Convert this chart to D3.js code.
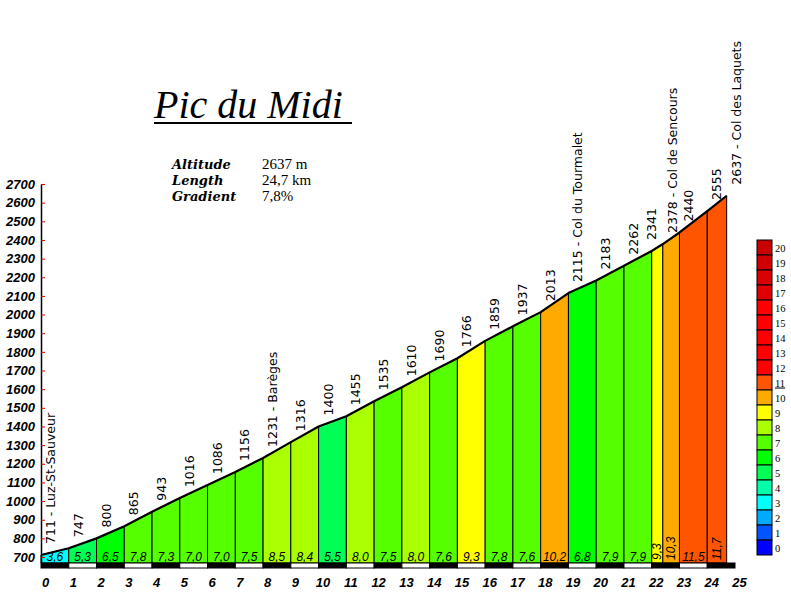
<!DOCTYPE html>
<html lang="fr">
<head>
  <meta charset="UTF-8">
  <title>Pic du Midi - profil</title>
  <script src="https://d3js.org/d3.v7.min.js"></script>
  <style>
    body {
      margin: 0;
      background: #fff;
    }
    .title {
      font-family: "Liberation Serif", serif;
      font-style: italic;
      font-size: 40px;
    }
    .stat-label {
      font-family: "DejaVu Serif", serif;
      font-style: italic;
      font-weight: bold;
      font-size: 13px;
    }
    .stat-value {
      font-family: "Liberation Serif", serif;
      font-size: 15px;
    }
    .axis text {
      font-family: "Liberation Sans", Arial, sans-serif;
      font-style: italic;
      font-weight: bold;
      font-size: 13px;
      fill: #000;
    }
    .point-label {
      font-family: "DejaVu Sans", sans-serif;
      font-size: 12.5px;
    }
    .grad-label {
      font-family: "Liberation Sans", Arial, sans-serif;
      font-style: italic;
      font-size: 12px;
    }
    .legend-label {
      font-family: "Liberation Serif", serif;
      font-size: 10.5px;
    }
  </style>
</head>
<body>
  <svg id="chart" width="791" height="594"></svg>

  <script>
    // Données du profil (km, altitude)
    const kms = [0, 1, 2, 3, 4, 5, 6, 7, 8, 9, 10, 11, 12, 13, 14, 15, 16, 17, 18, 19, 20, 21, 22, 22.4, 23, 24, 24.7];
    const elevations = [711, 747, 800, 865, 943, 1016, 1086, 1156, 1231, 1316, 1400, 1455, 1535, 1610, 1690, 1766, 1859, 1937, 2013, 2115, 2183, 2262, 2341, 2378, 2440, 2555, 2637];
    const places = ["Luz-St-Sauveur", "", "", "", "", "", "", "", "Barèges", "", "", "", "", "", "", "", "", "", "", "Col du Tourmalet", "", "", "", "Col de Sencours", "", "", "Col des Laquets"];
    // Pente de chaque tronçon (%)
    const gradients = [3.6, 5.3, 6.5, 7.8, 7.3, 7.0, 7.0, 7.5, 8.5, 8.4, 5.5, 8.0, 7.5, 8.0, 7.6, 9.3, 7.8, 7.6, 10.2, 6.8, 7.9, 7.9, 9.3, 10.3, 11.5, 11.7];
    // Couleur par pente entière 0..20
    const gradientColors = ["#0000ff", "#0055ff", "#00aaff", "#00ffff", "#00ffaa", "#00ff55", "#00ff00", "#55ff00", "#aaff00", "#ffff00", "#ffaa00", "#ff5500",
      "#ff0000", "#ff0000", "#ff0000", "#ff0000", "#ff0000", "#e00000", "#d80000", "#d00000", "#c80000"];
    const yTicks = d3.range(700, 2701, 100);
    const xTicks = d3.range(0, 26, 1);
    const stats = [["Altitude", "2637 m"], ["Length", "24,7 km"], ["Gradient", "7,8%"]];
    const climbName = "Pic du Midi";

    const svg = d3.select("#chart");
    const x = d3.scaleLinear().domain([0, 25]).range([41, 735]);
    const y = d3.scaleLinear().domain([668, 2700]).range([563, 184]);
    const base = y.domain()[0];
    const fmt = v => d3.format(".1f")(v).replace(".", ",");

    // Titre
    svg.append("text").attr("class", "title").attr("x", 154).attr("y", 118).text(climbName);
    svg.append("rect").attr("x", 154).attr("y", 122).attr("width", 198).attr("height", 2).attr("fill", "#000");

    // Caractéristiques
    stats.forEach((s, i) => {
      svg.append("text").attr("class", "stat-label").attr("x", 172).attr("y", 169 + i * 16).text(s[0]);
      svg.append("text").attr("class", "stat-value").attr("x", 262).attr("y", 169 + i * 16).text(s[1]);
    });

    // Tronçons colorés
    const segs = gradients.map((g, i) => ({
      k0: kms[i], k1: kms[i + 1], e0: elevations[i], e1: elevations[i + 1], g
    }));

    svg.append("g").selectAll("path")
      .data(segs)
      .join("path")
      .attr("d", d => `M${x(d.k0)},${y(base)}L${x(d.k0)},${y(d.e0)}L${x(d.k1)},${y(d.e1)}L${x(d.k1)},${y(base)}Z`)
      .attr("fill", d => gradientColors[Math.floor(d.g)])
      .attr("stroke", "#000")
      .attr("stroke-width", 1);

    // Pentes dans les tronçons
    segs.forEach(d => {
      const cx = (x(d.k0) + x(d.k1)) / 2;
      const w = x(d.k1) - x(d.k0);
      const label = fmt(d.g);
      const t = svg.append("text").attr("class", "grad-label").text(label);
      if (w < label.length * 5.5 + 1) {
        t.attr("transform", `translate(${cx + 4},560) rotate(-90)`);
      } else {
        t.attr("x", cx).attr("y", 561).attr("text-anchor", "middle");
      }
    });

    // Ligne du profil
    const line = d3.line().x((d, i) => x(kms[i])).y(d => y(d));
    svg.append("path")
      .datum(elevations)
      .attr("d", line)
      .attr("fill", "none")
      .attr("stroke", "#000")
      .attr("stroke-width", 2.2)
      .attr("stroke-linejoin", "round");

    // Étiquettes d'altitude
    const lx = kms.map(k => x(k) + 14);
    for (let i = lx.length - 2; i >= 0; i--) {
      if (lx[i + 1] - lx[i] < 14) lx[i] = lx[i + 1] - 21;
    }
    svg.append("g").selectAll("text")
      .data(elevations)
      .join("text")
      .attr("class", "point-label")
      .attr("transform", (d, i) => `translate(${lx[i]},${y(d) - 11}) rotate(-90)`)
      .text((d, i) => places[i] ? `${d} - ${places[i]}` : d);

    // Barre kilométrique
    svg.append("g").selectAll("rect")
      .data(d3.range(25))
      .join("rect")
      .attr("x", d => x(d))
      .attr("y", 563)
      .attr("width", x(1) - x(0))
      .attr("height", 5)
      .attr("fill", d => d % 2 ? "#fff" : "#000")
      .attr("stroke", "#000")
      .attr("stroke-width", 1);

    // Axe des altitudes
    const yAxis = d3.axisLeft(y).tickValues(yTicks).tickSizeInner(-4).tickSizeOuter(0).tickPadding(6).tickFormat(d3.format("d"));
    const gy = svg.append("g").attr("class", "axis").attr("transform", "translate(41,0)").call(yAxis);
    gy.selectAll(".tick line").attr("stroke", "#e00000");
    gy.select(".domain").attr("stroke", "#000").attr("stroke-width", 1.5);

    // Axe des km
    const xAxis = d3.axisBottom(x).tickValues(xTicks).tickSize(0).tickPadding(10).tickFormat(d3.format("d"));
    const gx = svg.append("g").attr("class", "axis").attr("transform", "translate(0,568)").call(xAxis);
    gx.select(".domain").remove();
    gx.selectAll("text").attr("dx", 4);

    // Légende
    const cats = d3.range(20, -1, -1);
    const band = d3.scaleBand().domain(cats).range([240, 555]);
    const maxCat = Math.floor(d3.max(gradients));
    const lg = svg.append("g");
    lg.selectAll("rect")
      .data(cats)
      .join("rect")
      .attr("x", 757)
      .attr("y", d => band(d))
      .attr("width", 15)
      .attr("height", band.bandwidth())
      .attr("fill", d => gradientColors[d])
      .attr("stroke", "#000")
      .attr("stroke-width", 1);
    lg.selectAll("text")
      .data(cats)
      .join("text")
      .attr("class", "legend-label")
      .attr("x", 775)
      .attr("y", d => band(d) + band.bandwidth() / 2 + 4)
      .attr("text-decoration", d => d === maxCat ? "underline" : null)
      .text(d => d);
  </script>
</body>
</html>
